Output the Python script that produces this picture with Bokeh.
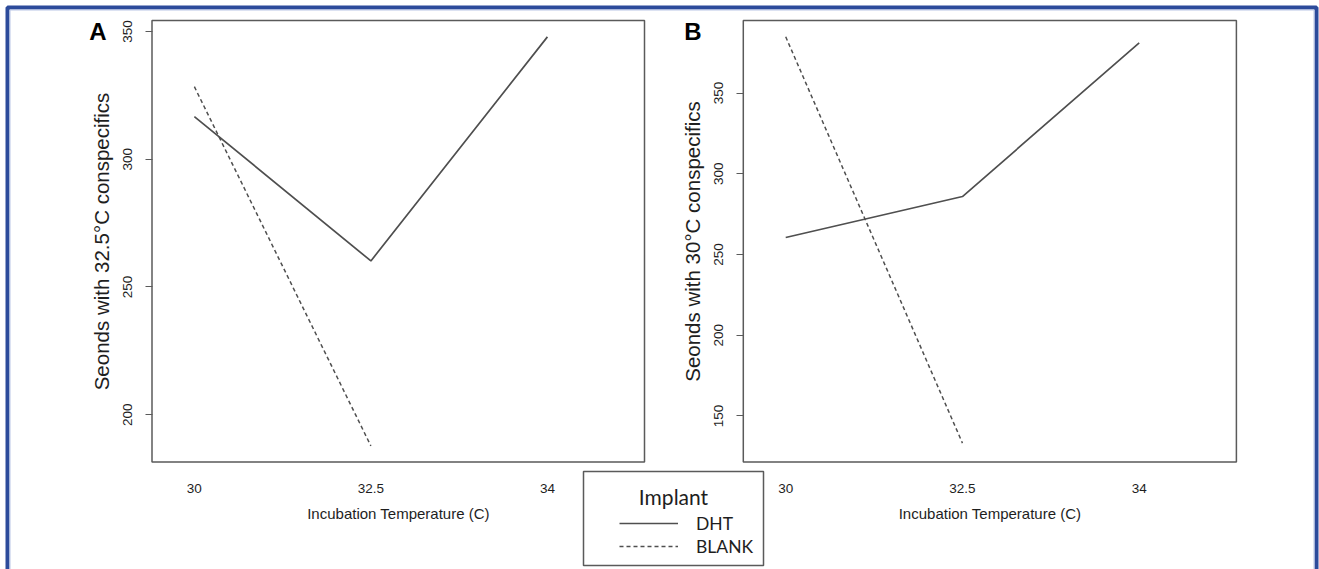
from bokeh.plotting import figure
from bokeh.models import Range1d, LinearAxis, FixedTicker, Legend, LegendItem, Label
from bokeh.embed import file_html
from bokeh.resources import INLINE

# ---------------- data ----------------
temps = ["30", "32.5", "34"]
temp_pos = [0, 1, 2]

a_dht = [316.7, 260.2, 347.9]
a_blank = [328.4, 187.8]
b_dht = [260.5, 285.9, 381.0]
b_blank = [384.8, 133.2]

a_yticks = [200, 250, 300, 350]
b_yticks = [150, 200, 250, 300, 350]
a_ylabel = "Seonds with 32.5°C conspecifics"
b_ylabel = "Seonds with 30°C conspecifics"
x_label = "Incubation Temperature (C)"
legend_title = "Implant"
series_names = ["DHT", "BLANK"]
panel_tags = ["A", "B"]

a_ylim = (181.5, 354.3)
b_ylim = (121.5, 394.9)
xlim = (-0.24, 2.55)

# ---------------- layout (canvas pixels) ----------------
W, H = 1319, 569
BOX_TOP, BOX_BOTTOM = 20, 461.5
A_LEFT, A_RIGHT = 151.5, 644
B_LEFT, B_RIGHT = 742.8, 1235.9

LINE_C = "#4f4f4f"
BOX_C = "#5a5a5a"
TEXT_C = "#1e1e1e"
BLUE = "#2c4b9b"


def fit_range(lo, hi, p_lo, p_hi, size):
    s = (p_hi - p_lo) / (hi - lo)
    start = lo - p_lo / s
    return Range1d(start=start, end=start + size / s)


p = figure(width=W, height=H, output_backend="svg", toolbar_location=None,
           x_range=Range1d(0, W), y_range=Range1d(H, 0),
           x_axis_type=None, y_axis_type=None, min_border=0,
           outline_line_color=None, background_fill_color="white",
           border_fill_color="white")

p.extra_x_ranges = {
    "xa": fit_range(xlim[0], xlim[1], A_LEFT, A_RIGHT, W),
    "xb": fit_range(xlim[0], xlim[1], B_LEFT, B_RIGHT, W),
}
p.extra_y_ranges = {
    "ya": fit_range(a_ylim[0], a_ylim[1], H - BOX_BOTTOM, H - BOX_TOP, H),
    "yb": fit_range(b_ylim[0], b_ylim[1], H - BOX_BOTTOM, H - BOX_TOP, H),
}

# outer blue frame (decoration)
p.line(x=[7, 7, 1316, 1316], y=[H + 5, 7, 7, H + 5],
       line_color=BLUE, line_width=4)
p.line(x=[9.5, 9.5, 1313.5, 1313.5], y=[H + 5, 9.5, 9.5, H + 5],
       line_color="#b9c6e6", line_width=1)


def panel(xr, yr, ylim, yticks, ylab, box_left, dht, blank, tag, tag_x):
    p.quad(left=[xlim[0]], right=[xlim[1]], bottom=[ylim[0]], top=[ylim[1]],
           x_range_name=xr, y_range_name=yr, fill_alpha=0,
           line_color=BOX_C, line_width=1.5)
    r_dht = p.line(temp_pos[:len(dht)], dht, x_range_name=xr, y_range_name=yr,
                   line_color=LINE_C, line_width=1.7)
    r_blank = p.line(temp_pos[:len(blank)], blank, x_range_name=xr, y_range_name=yr,
                     line_color=LINE_C, line_width=1.5, line_dash="4 3")

    yax = LinearAxis(y_range_name=yr, fixed_location=box_left, bounds=ylim,
                     ticker=FixedTicker(ticks=yticks), axis_label=ylab)
    yax.axis_line_color = None
    yax.major_tick_out = 7
    yax.major_tick_in = 0
    yax.major_tick_line_color = BOX_C
    yax.major_tick_line_width = 1.2
    yax.minor_tick_line_color = None
    yax.major_label_orientation = "vertical"
    yax.major_label_standoff = 13
    yax.major_label_text_font = "Liberation Sans"
    yax.major_label_text_font_size = "13.5px"
    yax.major_label_text_color = TEXT_C
    yax.axis_label_text_font = "Liberation Sans"
    yax.axis_label_text_font_style = "normal"
    yax.axis_label_text_font_size = "20.5px"
    yax.axis_label_text_color = TEXT_C
    yax.axis_label_standoff = 8
    p.add_layout(yax, "left")

    xax = LinearAxis(x_range_name=xr, fixed_location=BOX_BOTTOM, bounds=xlim,
                     ticker=FixedTicker(ticks=temp_pos),
                     major_label_overrides={k: v for k, v in zip(temp_pos, temps)},
                     axis_label=x_label)
    xax.axis_line_color = None
    xax.major_tick_out = 0
    xax.major_tick_in = 0
    xax.major_tick_line_color = None
    xax.minor_tick_line_color = None
    xax.major_label_standoff = 22
    xax.major_label_text_font = "Liberation Sans"
    xax.major_label_text_font_size = "13.5px"
    xax.major_label_text_color = TEXT_C
    xax.axis_label_text_font = "Liberation Sans"
    xax.axis_label_text_font_style = "normal"
    xax.axis_label_text_font_size = "15px"
    xax.axis_label_text_color = TEXT_C
    xax.axis_label_standoff = 8
    p.add_layout(xax, "below")

    p.add_layout(Label(x=tag_x, y=31, text=tag, text_font="Liberation Sans",
                       text_font_style="bold", text_font_size="24px",
                       text_align="center", text_baseline="middle",
                       text_color="black"))
    return r_dht, r_blank


ra_dht, ra_blank = panel("xa", "ya", a_ylim, a_yticks, a_ylabel, A_LEFT,
                         a_dht, a_blank, panel_tags[0], 97.5)
panel("xb", "yb", b_ylim, b_yticks, b_ylabel, B_LEFT,
      b_dht, b_blank, panel_tags[1], 692.5)

# legend box + title + items
p.quad(left=[583], right=[763], top=[471], bottom=[565], fill_alpha=0,
       line_color=BOX_C, line_width=1.5)
p.add_layout(Label(x=673, y=496, text=legend_title, text_font="Lato",
                   text_font_size="21px", text_align="center",
                   text_baseline="middle", text_color=TEXT_C))
legend = Legend(items=[LegendItem(label=series_names[0], renderers=[ra_dht]),
                       LegendItem(label=series_names[1], renderers=[ra_blank])],
                location=(614, 7.5), glyph_width=59, glyph_height=20,
                label_height=20, label_standoff=18, spacing=2, padding=5,
                margin=0, border_line_alpha=0, background_fill_alpha=0,
                label_text_font="Lato", label_text_font_size="17.5px",
                label_text_color=TEXT_C)
p.add_layout(legend)

open("out.html", "w").write(file_html(p, INLINE))
